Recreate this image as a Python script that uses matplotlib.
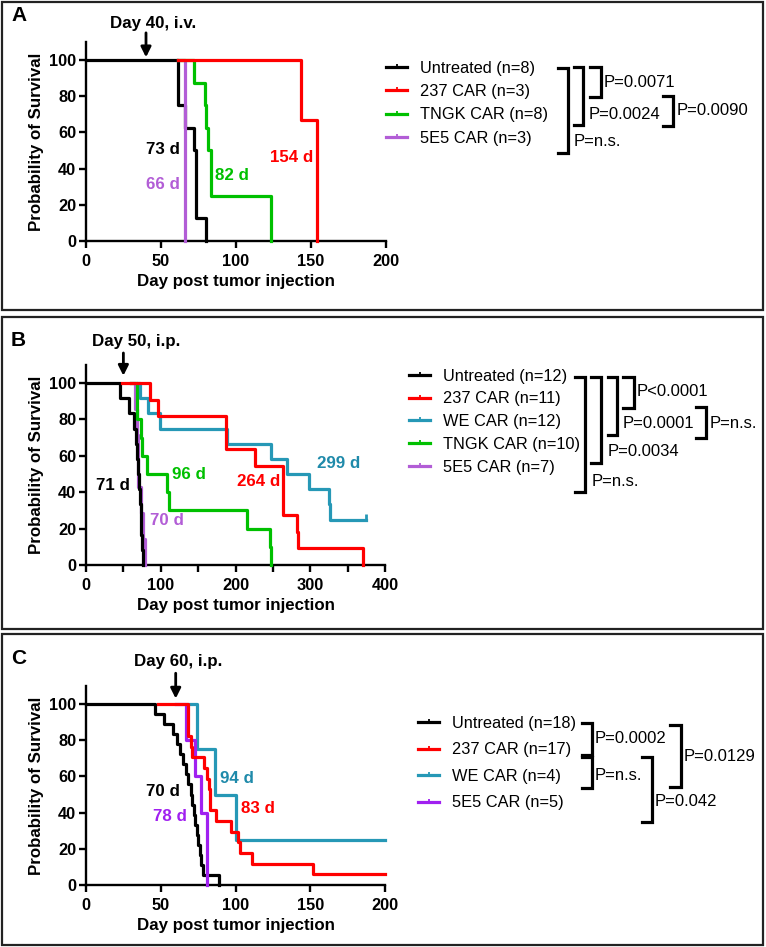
import matplotlib
matplotlib.use("Agg")
import matplotlib.pyplot as plt
from matplotlib.lines import Line2D
from matplotlib.patches import Rectangle

plt.rcParams['font.family'] = ['Liberation Sans', 'DejaVu Sans']

BLACK = '#000000'
RED = '#FF0000'
GREEN = '#00C000'
PURPLE = '#B25DD6'
PURPLE_C = '#A020F0'
TEAL = '#2698B6'

# ---- panel A: Day 40, i.v. ----
a_untreated_t = [0, 61, 66, 72, 73, 80]
a_untreated_s = [100, 75, 62.5, 50, 12.5, 0]
a_237_t = [61, 143, 154]
a_237_s = [100, 66.7, 0]
a_tngk_t = [61, 72, 79, 80, 81, 83, 123]
a_tngk_s = [100, 87.5, 75, 62.5, 50, 25, 0]
a_5e5_t = [61, 66]
a_5e5_s = [100, 0]
a_labels = ['Untreated (n=8)', '237 CAR (n=3)', 'TNGK CAR (n=8)', '5E5 CAR (n=3)']
a_medians = ['73 d', '154 d', '82 d', '66 d']

# ---- panel B: Day 50, i.p. ----
b_untreated_t = [0, 45, 58, 64, 67, 68, 69, 71, 72, 73, 74, 75, 76]
b_untreated_s = [100, 91.7, 83.3, 75, 66.7, 58.3, 50, 41.7, 33.3, 25, 16.7, 8.3, 0]
b_237_t = [48, 86, 96, 187, 226, 264, 282, 284, 370]
b_237_s = [100, 90.9, 81.8, 63.6, 54.5, 27.3, 18.2, 9.1, 0]
b_we_t = [69, 72, 83, 99, 188, 248, 269, 298, 325, 327, 374]
b_we_s = [100, 91.7, 83.3, 75, 66.7, 58.3, 50, 41.7, 33.3, 25, 25]
b_tngk_t = [60, 68, 73, 75, 81, 108, 111, 215, 246, 248]
b_tngk_s = [100, 80, 70, 60, 50, 40, 30, 20, 10, 0]
b_5e5_t = [60, 66, 68, 69, 70, 74, 76, 79]
b_5e5_s = [100, 85.7, 71.4, 57.1, 42.9, 28.6, 14.3, 0]
b_labels = ['Untreated (n=12)', '237 CAR (n=11)', 'WE CAR (n=12)', 'TNGK CAR (n=10)', '5E5 CAR (n=7)']
b_medians = ['71 d', '264 d', '299 d', '96 d', '70 d']

# ---- panel C: Day 60, i.p. ----
c_untreated_t = [0, 46, 52, 58, 61, 63, 65, 67, 68, 70, 71, 72, 73, 74, 75, 76, 77, 78, 89]
c_untreated_s = [100, 94.4, 88.9, 83.3, 77.8, 72.2, 66.7, 61.1, 55.6, 50, 44.4,
                 38.9, 33.3, 27.8, 22.2, 16.7, 11.1, 5.6, 0]
c_237_t = [48, 68, 70, 71, 79, 81, 82, 83, 87, 97, 102, 103, 111, 152, 200]
c_237_s = [100, 82.4, 76.5, 70.6, 64.7, 58.8, 52.9, 41.2, 35.3, 29.4, 23.5, 17.6, 11.8, 5.9, 5.9]
c_we_t = [68, 74, 86, 100, 200]
c_we_s = [100, 75, 50, 25, 25]
c_5e5_t = [60, 67, 73, 77, 81]
c_5e5_s = [100, 80, 60, 40, 0]
c_labels = ['Untreated (n=18)', '237 CAR (n=17)', 'WE CAR (n=4)', '5E5 CAR (n=5)']
c_medians = ['70 d', '83 d', '94 d', '78 d']

a_pvals = ['P=0.0071', 'P=0.0024', 'P=n.s.', 'P=0.0090']
b_pvals = ['P<0.0001', 'P=0.0001', 'P=0.0034', 'P=n.s.', 'P=n.s.']
c_pvals = ['P=0.0002', 'P=n.s.', 'P=0.0129', 'P=0.042']

W, H = 766, 947
fig = plt.figure(figsize=(W / 100, H / 100), dpi=100)

# overlay in pixel coordinates for frames, brackets and p-values
ov = fig.add_axes([0, 0, 1, 1])
ov.set_xlim(0, W)
ov.set_ylim(H, 0)
ov.axis('off')


def px_axes(x0, x1, y_top, y_bot):
    return fig.add_axes([x0 / W, 1 - y_bot / H, (x1 - x0) / W, (y_bot - y_top) / H])


def style(ax, xmax, major, minor=None):
    ax.set_xlim(0, xmax)
    ax.set_ylim(0, 110)
    for s in ['top', 'right']:
        ax.spines[s].set_visible(False)
    for s in ['left', 'bottom']:
        ax.spines[s].set_linewidth(1.7)
    ax.set_xticks(range(0, xmax + 1, major))
    if minor:
        ax.set_xticks(range(0, xmax + 1, minor), minor=True)
    ax.set_yticks(range(0, 101, 20))
    ax.tick_params(width=1.7, length=5, labelsize=11.8, pad=2)
    ax.tick_params(axis='x', pad=4)
    ax.tick_params(which='minor', width=1.7, length=5)
    for lab in ax.get_xticklabels() + ax.get_yticklabels():
        lab.set_fontweight('bold')
    ax.set_xlabel('Day post tumor injection', fontsize=12.2, fontweight='bold', labelpad=4)
    ax.set_ylabel('Probability of Survival', fontsize=12.2, fontweight='bold', labelpad=4)
    ax.patch.set_alpha(0)


def km(ax, t, s, color, z):
    ax.step(t, s, where='post', color=color, lw=2.3, clip_on=False, zorder=z)


def legend(ax, labels, colors, x, y, spacing):
    handles = [Line2D([], [], color=c, lw=2.3, marker=2, markersize=2.5, markeredgewidth=1.3)
               for c in colors]
    ax.legend(handles, labels, loc='upper left', bbox_to_anchor=(x, y),
              bbox_transform=ov.transData, frameon=False, borderpad=0, borderaxespad=0,
              handlelength=1.3, handletextpad=0.8, labelspacing=spacing,
              fontsize=11.8, numpoints=1)


def bracket(x0, x1, y0, y1, text, tx, ty):
    ov.plot([x0, x1, x1, x0], [y0, y0, y1, y1], color='k', lw=2.3, solid_joinstyle='miter')
    ov.text(tx, ty, text, fontsize=12, va='center', ha='left')


def arrow(ax, x, label, tx, ty, tip, tail):
    ax.annotate('', xy=(x, tip), xytext=(x, tail),
                arrowprops=dict(arrowstyle='-|>', color='k', lw=2.0, mutation_scale=15,
                                shrinkA=0, shrinkB=0), annotation_clip=False)
    ax.text(tx, ty, label, ha='center', va='center', fontsize=12.2, fontweight='bold',
            clip_on=False)


# panel frames
for (y0, y1) in [(1.5, 310), (317, 629), (634, 945)]:
    ov.add_patch(Rectangle((2, y0), 761, y1 - y0, fill=False, lw=1.6, ec='#222222'))
for letter, y in [('A', 15), ('B', 340), ('C', 658)]:
    ov.text(11, y, letter, fontsize=15, fontweight='bold', va='center', ha='left')

# ---- A ----
axA = px_axes(86, 386, 241 - 110 * 1.81, 241)
km(axA, a_untreated_t, a_untreated_s, BLACK, 3)
km(axA, a_5e5_t, a_5e5_s, PURPLE, 4)
km(axA, a_tngk_t, a_tngk_s, GREEN, 5)
km(axA, a_237_t, a_237_s, RED, 6)
style(axA, 200, 50)
arrow(axA, 40, 'Day 40, i.v.', 44.7, 120.4, 101.5, 115)
axA.text(62.5, 50.3, a_medians[0], color=BLACK, ha='right', va='center', fontsize=12.2, fontweight='bold')
axA.text(122.7, 46, a_medians[1], color=RED, ha='left', va='center', fontsize=12.2, fontweight='bold')
axA.text(86, 36, a_medians[2], color=GREEN, ha='left', va='center', fontsize=12.2, fontweight='bold')
axA.text(62.5, 31, a_medians[3], color=PURPLE, ha='right', va='center', fontsize=12.2, fontweight='bold')
legend(axA, a_labels, [BLACK, RED, GREEN, PURPLE], 386, 61, 0.5)
bracket(590, 600.7, 66.7, 97.3, a_pvals[0], 604, 82.7)
bracket(574, 583.3, 66.7, 125, a_pvals[1], 589, 114)
bracket(558, 568, 68, 152.7, a_pvals[2], 574, 141.7)
bracket(663, 673, 95.7, 126, a_pvals[3], 677, 110)

# ---- B ----
axB = px_axes(86, 385, 565 - 110 * 1.82, 565)
km(axB, b_5e5_t, b_5e5_s, PURPLE, 3)
km(axB, b_untreated_t, b_untreated_s, BLACK, 4)
km(axB, b_tngk_t, b_tngk_s, GREEN, 5)
km(axB, b_we_t, b_we_s, TEAL, 6)
km(axB, b_237_t, b_237_s, RED, 7)
axB.plot([b_we_t[-1]], [b_we_s[-1]], marker=2, ms=4, mew=2, color=TEAL, clip_on=False, zorder=6)
style(axB, 400, 100, 50)
arrow(axB, 50, 'Day 50, i.p.', 66.7, 122.7, 104, 116.5)
axB.text(59, 43.6, b_medians[0], color=BLACK, ha='right', va='center', fontsize=12.2, fontweight='bold')
axB.text(201.6, 45.8, b_medians[1], color=RED, ha='left', va='center', fontsize=12.2, fontweight='bold')
axB.text(308.6, 55.5, b_medians[2], color='#1F8AAA', ha='left', va='center', fontsize=12.2, fontweight='bold')
axB.text(114.6, 50, b_medians[3], color=GREEN, ha='left', va='center', fontsize=12.2, fontweight='bold')
axB.text(85.6, 24.7, b_medians[4], color=PURPLE, ha='left', va='center', fontsize=12.2, fontweight='bold')
legend(axB, b_labels, [BLACK, RED, TEAL, GREEN, PURPLE], 409, 368.5, 0.48)
bracket(623, 634, 376.7, 408.3, b_pvals[0], 636.5, 391.7)
bracket(607.7, 617.3, 376.7, 435, b_pvals[1], 622.5, 423.3)
bracket(590.7, 600.7, 376.7, 462.7, b_pvals[2], 608, 451.7)
bracket(575, 585, 376.7, 491.7, b_pvals[3], 591.5, 481.7)
bracket(696, 706, 407.3, 437.7, b_pvals[4], 710, 423.3)

# ---- C ----
axC = px_axes(86, 385, 885 - 110 * 1.81, 885)
km(axC, c_untreated_t, c_untreated_s, BLACK, 3)
km(axC, c_we_t, c_we_s, TEAL, 4)
km(axC, c_5e5_t, c_5e5_s, PURPLE_C, 5)
km(axC, c_237_t, c_237_s, RED, 6)
style(axC, 200, 50)
arrow(axC, 60, 'Day 60, i.p.', 61.5, 123.3, 103, 117)
axC.text(63, 51.5, c_medians[0], color=BLACK, ha='right', va='center', fontsize=12.2, fontweight='bold')
axC.text(104, 42.5, c_medians[1], color=RED, ha='left', va='center', fontsize=12.2, fontweight='bold')
axC.text(89.6, 59, c_medians[2], color='#1F8AAA', ha='left', va='center', fontsize=12.2, fontweight='bold')
axC.text(67.4, 37.7, c_medians[3], color=PURPLE_C, ha='right', va='center', fontsize=12.2, fontweight='bold')
legend(axC, c_labels, [BLACK, RED, TEAL, PURPLE_C], 418, 716, 0.7)
bracket(581.7, 591.7, 723.3, 755, c_pvals[0], 595, 738.3)
bracket(581.7, 591.7, 756.7, 788.3, c_pvals[1], 595, 775)
bracket(670, 680.7, 725, 786.7, c_pvals[2], 683.3, 756.7)
bracket(641.7, 651.7, 757.3, 821.7, c_pvals[3], 655, 801.7)

fig.savefig('out.png', dpi=100)
